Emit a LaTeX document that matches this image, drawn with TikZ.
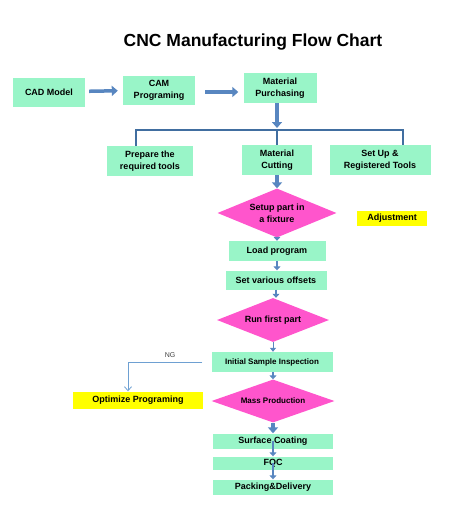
\documentclass[tikz,border=0pt]{standalone}
\usepackage{fontspec}
\setmainfont{Liberation Sans}
\usetikzlibrary{shapes.geometric,arrows.meta}

\definecolor{boxgreen}{RGB}{153,245,200}
\definecolor{diapink}{RGB}{255,85,204}
\definecolor{noteyellow}{RGB}{255,255,0}
\definecolor{flowblue}{RGB}{88,134,192}
\definecolor{barblue}{RGB}{65,110,160}
\definecolor{ngblue}{RGB}{110,160,210}

\begin{document}
\begin{tikzpicture}[
  x=1pt, y=-1pt,
  every node/.style={inner sep=0pt, align=center, font=\bfseries\fontsize{9}{12}\selectfont},
  stepbox/.style={fill=boxgreen, minimum width=#1},
  notebox/.style={fill=noteyellow, minimum width=#1},
  decision/.style={diamond, fill=diapink, aspect=2.4, minimum width=#1},
  flow/.style={draw=flowblue, line width=3.5pt, -{Triangle[length=6pt,width=10pt]}},
  smallflow/.style={draw=flowblue, line width=2pt, -{Triangle[length=4pt,width=7pt]}},
  bar/.style={draw=barblue, line width=2pt},
  ngline/.style={draw=ngblue, line width=0.8pt, -{Straight Barb[length=4pt,width=7pt]}}
]
\useasboundingbox (0,0) rectangle (457,528);

\node (title) at (253,42) {\fontsize{17.5}{20}\selectfont CNC Manufacturing Flow Chart};

% top row
\node[stepbox=72pt, minimum height=29pt] (cad) at (49,92) {CAD Model};
\node[stepbox=72pt, minimum height=29pt] (cam) at (159,90) {CAM\\Programing};
\node[stepbox=73pt, minimum height=30pt] (purchase) at (280,88) {Material\\Purchasing};

% second row
\node[stepbox=86pt, minimum height=30pt] (tools) at (150,161) {Prepare the\\required tools};
\node[stepbox=70pt, minimum height=30pt] (cutting) at (277,160) {Material\\Cutting};
\node[stepbox=101pt, minimum height=30pt] (register) at (380,160) {Set Up \&\\Registered Tools};
\coordinate (split) at (277,130);
\coordinate (splitl) at (136,130);
\coordinate (splitr) at (403,130);

% main column
\node[decision=119pt, minimum height=49pt] (fixture) at (277,213) {Setup part in\\a fixture};
\node[notebox=70pt, minimum height=15pt] (adjust) at (392,218) {Adjustment};
\node[stepbox=97pt, minimum height=20pt] (load) at (277,251) {Load program};
\node[stepbox=101pt, minimum height=19pt] (offsets) at (276,280) {Set various offsets};
\node[decision=112pt, minimum height=44pt] (firstpart) at (273,320) {Run first part};
\node[stepbox=121pt, minimum height=20pt, font=\bfseries\fontsize{8}{10}\selectfont] (inspect) at (272,362) {Initial Sample Inspection};
\node[notebox=130pt, minimum height=17pt] (optimize) at (138,400) {Optimize Programing};
\node[decision=123pt, minimum height=43pt, font=\bfseries\fontsize{8}{10}\selectfont] (mass) at (273,401) {Mass Production};
\node[stepbox=120pt, minimum height=15pt] (coating) at (273,441) {Surface Coating};
\node[stepbox=120pt, minimum height=13pt] (fqc) at (273,463) {FQC};
\node[stepbox=120pt, minimum height=15pt] (packing) at (273,487) {Packing\&Delivery};
\coordinate (ngbend) at (128,362);
\node[font=\fontsize{7}{8}\selectfont, text=black!75] (nglabel) at (170,355) {NG};

% connectors
\draw[flow, shorten <=4pt, shorten >=5pt] (cad) -- (cam);
\draw[flow, shorten <=10pt, shorten >=5pt] (cam.east |- cad) -- (purchase.west |- cad);
\draw[flow] (purchase.south -| split) -- ([yshift=2pt]split);
\draw[bar] (splitl |- tools.north) -- (splitl) -- (splitr) -- (splitr |- register.north);
\draw[bar] (split) -- (cutting.north);
\draw[flow] (cutting) -- (fixture.north);
\draw[smallflow] (fixture.south) -- (load.north);
\draw[smallflow] (load.south) -- (offsets.north -| load);
\draw[smallflow] (offsets.south) -- (firstpart.north -| offsets);
\draw[draw=flowblue, line width=0.8pt, -{Triangle[length=4pt,width=6pt]}] (firstpart.south) -- (inspect.north -| firstpart);
\draw[smallflow] (inspect.south -| mass) -- (mass.north);
\draw[flow] (mass.south) -- (coating.north);
\draw[smallflow] (coating.center) -- (fqc.north);
\draw[smallflow] (fqc.center) -- (packing.north);
\draw[ngline] ([xshift=-9pt]inspect.west) -- (ngbend) -- (ngbend |- optimize.north);
\end{tikzpicture}
\end{document}
